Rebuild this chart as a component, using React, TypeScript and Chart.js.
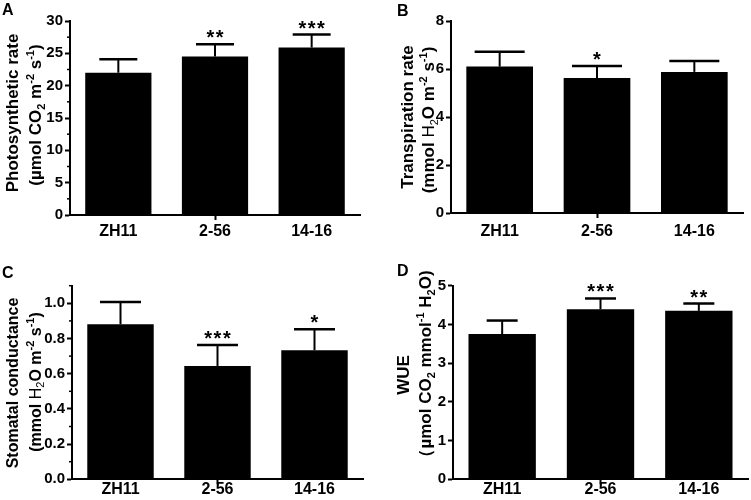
import React, { useEffect, useRef } from "react";
import { Chart, registerables } from "chart.js";

Chart.register(...registerables);

const FAMILY = "'Liberation Sans', Arial, sans-serif";

// ---------- data ----------
const categories = ["ZH11", "2-56", "14-16"];

const photoMean = [22.0, 24.5, 25.9];
const photoSD = [2.1, 1.9, 2.0];
const photoStars = ["", "**", "***"];
const photoTicks = [0, 5, 10, 15, 20, 25, 30];
const photoMinor = [2.5, 7.5, 12.5, 17.5, 22.5, 27.5];

const transMean = [6.1, 5.62, 5.88];
const transSD = [0.62, 0.51, 0.45];
const transStars = ["", "*", ""];
const transTicks = [0, 2, 4, 6, 8];
const transMinor: number[] = [];

const condMean = [0.881, 0.644, 0.733];
const condSD = [0.126, 0.119, 0.119];
const condStars = ["", "***", "*"];
const condTicks = [0, 0.2, 0.4, 0.6, 0.8, 1.0];
const condMinor = [0.1, 0.3, 0.5, 0.7, 0.9, 1.1];

const wueMean = [3.75, 4.39, 4.35];
const wueSD = [0.35, 0.28, 0.19];
const wueStars = ["", "***", "**"];
const wueTicks = [0, 1, 2, 3, 4, 5];
const wueMinor: number[] = [];

type Seg = { t: string; k?: "sub" | "sup"; w?: string };

type Panel = {
  letter: string;
  box: { left: number; top: number; w: number; h: number };
  area: { left: number; right: number; top: number; bottom: number };
  max: number;
  mean: number[];
  sd: number[];
  stars: string[];
  ticks: number[];
  minor: number[];
  decimals: number;
  capW: number;
  xPad: number;
  letterPos: [number, number];
  titleSize: number;
  lines: { segs: Seg[]; cx: number; cy: number }[];
};

const panels: Panel[] = [
  {
    letter: "A",
    box: { left: 0, top: 0, w: 375, h: 250 },
    area: { left: 70, right: 360, top: 21, bottom: 215 },
    max: 30,
    mean: photoMean,
    sd: photoSD,
    stars: photoStars,
    ticks: photoTicks,
    minor: photoMinor,
    decimals: 0,
    capW: 38,
    xPad: 2,
    letterPos: [2, 15],
    titleSize: 17,
    lines: [
      { segs: [{ t: "Photosynthetic rate" }], cx: 12, cy: 113 },
      {
        segs: [
          { t: "(µmol CO" },
          { t: "2", k: "sub" },
          { t: " m" },
          { t: "-2", k: "sup" },
          { t: " s" },
          { t: "-1", k: "sup" },
          { t: ")" },
        ],
        cx: 35,
        cy: 115,
      },
    ],
  },
  {
    letter: "B",
    box: { left: 375, top: 0, w: 376, h: 250 },
    area: { left: 451, right: 743, top: 21, bottom: 213 },
    max: 8,
    mean: transMean,
    sd: transSD,
    stars: transStars,
    ticks: transTicks,
    minor: transMinor,
    decimals: 0,
    capW: 50,
    xPad: 4,
    letterPos: [397, 16],
    titleSize: 17,
    lines: [
      { segs: [{ t: "Transpiration rate" }], cx: 407, cy: 117 },
      {
        segs: [
          { t: "(mmol " },
          { t: "H", w: "normal" },
          { t: "2", k: "sub", w: "normal" },
          { t: "O m" },
          { t: "-2", k: "sup" },
          { t: " s" },
          { t: "-1", k: "sup" },
          { t: ")" },
        ],
        cx: 428,
        cy: 120,
      },
    ],
  },
  {
    letter: "C",
    box: { left: 0, top: 250, w: 375, h: 250 },
    area: { left: 72, right: 363, top: 285.7, bottom: 479.3 },
    max: 1.1,
    mean: condMean,
    sd: condSD,
    stars: condStars,
    ticks: condTicks,
    minor: condMinor,
    decimals: 1,
    capW: 41,
    xPad: -4,
    letterPos: [2, 278],
    titleSize: 16,
    lines: [
      { segs: [{ t: "Stomatal conductance" }], cx: 12, cy: 383 },
      {
        segs: [
          { t: "(mmol " },
          { t: "H", w: "normal" },
          { t: "2", k: "sub", w: "normal" },
          { t: "O m" },
          { t: "-2", k: "sup" },
          { t: " s" },
          { t: "-1", k: "sup" },
          { t: ")" },
        ],
        cx: 35,
        cy: 382,
      },
    ],
  },
  {
    letter: "D",
    box: { left: 375, top: 250, w: 376, h: 250 },
    area: { left: 453, right: 748, top: 285.7, bottom: 479.3 },
    max: 5,
    mean: wueMean,
    sd: wueSD,
    stars: wueStars,
    ticks: wueTicks,
    minor: wueMinor,
    decimals: 0,
    capW: 31,
    xPad: -4,
    letterPos: [397, 276],
    titleSize: 17,
    lines: [
      { segs: [{ t: "WUE" }], cx: 403, cy: 375 },
      {
        segs: [
          { t: "（µmol CO" },
          { t: "2", k: "sub" },
          { t: " mmol" },
          { t: "-1", k: "sup" },
          { t: " H" },
          { t: "2", k: "sub" },
          { t: "O)" },
        ],
        cx: 425,
        cy: 368,
      },
    ],
  },
];

function drawRich(
  ctx: CanvasRenderingContext2D,
  segs: Seg[],
  cx: number,
  cy: number,
  size: number
) {
  const small = Math.round(size * 0.66);
  const parts = segs.map((s) => {
    const fs = s.k ? small : size;
    const font = `${s.w ?? "bold"} ${fs}px ${FAMILY}`;
    ctx.font = font;
    return { s, font, width: ctx.measureText(s.t).width };
  });
  const total = parts.reduce((a, p) => a + p.width, 0);
  ctx.save();
  ctx.translate(cx, cy);
  ctx.rotate(-Math.PI / 2);
  ctx.fillStyle = "#000";
  ctx.textBaseline = "alphabetic";
  ctx.textAlign = "left";
  let x = -total / 2;
  const base = size * 0.36;
  for (const p of parts) {
    ctx.font = p.font;
    let y = base;
    if (p.s.k === "sub") y += size * 0.22;
    if (p.s.k === "sup") y -= size * 0.42;
    ctx.fillText(p.s.t, x, y);
    x += p.width;
  }
  ctx.restore();
}

function PanelChart({ p }: { p: Panel }) {
  const ref = useRef<HTMLCanvasElement | null>(null);

  useEffect(() => {
    const canvas = ref.current;
    if (!canvas) return;
    const aLeft = p.area.left - p.box.left;
    const aRight = p.area.right - p.box.left;
    const aTop = p.area.top - p.box.top;
    const aBottom = p.area.bottom - p.box.top;

    const overlay = {
      id: "overlay" + p.letter,
      afterDatasetsDraw(chart: any) {
        const ctx: CanvasRenderingContext2D = chart.ctx;
        const ys = chart.scales.y;
        const meta = chart.getDatasetMeta(0);
        ctx.save();
        ctx.strokeStyle = "#000";
        ctx.fillStyle = "#000";
        ctx.lineWidth = 1.5;
        const left = chart.chartArea.left;
        for (const v of p.minor) {
          const y = ys.getPixelForValue(v);
          ctx.beginPath();
          ctx.moveTo(left - 3, y);
          ctx.lineTo(left, y);
          ctx.stroke();
        }
        meta.data.forEach((el: any, i: number) => {
          const x = el.x;
          const y0 = ys.getPixelForValue(p.mean[i]);
          const y1 = ys.getPixelForValue(p.mean[i] + p.sd[i]);
          ctx.lineWidth = 2;
          ctx.beginPath();
          ctx.moveTo(x, y0);
          ctx.lineTo(x, y1);
          ctx.stroke();
          ctx.lineWidth = 2.5;
          ctx.beginPath();
          ctx.moveTo(x - p.capW / 2, y1);
          ctx.lineTo(x + p.capW / 2, y1);
          ctx.stroke();
          const st = p.stars[i];
          if (st) {
            ctx.font = `bold 20px ${FAMILY}`;
            (ctx as any).letterSpacing = "1.5px";
            ctx.textAlign = "center";
            ctx.textBaseline = "alphabetic";
            const m = ctx.measureText(st);
            const by = y1 - 6 - m.actualBoundingBoxDescent;
            ctx.fillText(st, x + 0.75, by);
            (ctx as any).letterSpacing = "0px";
          }
        });
        ctx.restore();
      },
      afterDraw(chart: any) {
        const ctx: CanvasRenderingContext2D = chart.ctx;
        for (const l of p.lines) {
          drawRich(ctx, l.segs, l.cx - p.box.left, l.cy - p.box.top, p.titleSize);
        }
        ctx.save();
        ctx.font = `bold 16px ${FAMILY}`;
        ctx.fillStyle = "#000";
        ctx.textAlign = "left";
        ctx.textBaseline = "alphabetic";
        ctx.fillText(p.letter, p.letterPos[0] - p.box.left, p.letterPos[1] - p.box.top);
        ctx.restore();
      },
    };

    const chart = new Chart(canvas, {
      type: "bar",
      data: {
        labels: categories,
        datasets: [
          {
            data: p.mean,
            backgroundColor: "#000",
            borderWidth: 0,
            barPercentage: 1,
            categoryPercentage: 0.685,
          },
        ],
      },
      options: {
        animation: false,
        responsive: false,
        maintainAspectRatio: false,
        layout: {
          padding: { left: 0, top: aTop, right: p.box.w - aRight, bottom: 0 },
        },
        plugins: {
          legend: { display: false },
          tooltip: { enabled: false },
        },
        scales: {
          x: {
            type: "category",
            grid: {
              display: true,
              offset: false,
              drawOnChartArea: false,
              drawTicks: true,
              tickLength: 5,
              tickWidth: 2,
              tickColor: (c: any) => (c.index === 1 ? "#000" : "rgba(0,0,0,0)"),
            },
            border: { display: true, color: "#000", width: 2 },
            ticks: {
              color: "#000",
              font: { family: FAMILY, size: 16, weight: "bold" },
              padding: p.xPad,
              maxRotation: 0,
              autoSkip: false,
            },
            afterFit: (s: any) => {
              s.height = p.box.h - aBottom;
            },
          },
          y: {
            min: 0,
            max: p.max,
            afterBuildTicks: (s: any) => {
              s.ticks = p.ticks.map((v) => ({ value: v }));
            },
            grid: {
              display: true,
              drawOnChartArea: false,
              drawTicks: true,
              tickLength: 5,
              tickWidth: 2,
              tickColor: "#000",
            },
            border: { display: true, color: "#000", width: 2 },
            ticks: {
              color: "#000",
              font: { family: FAMILY, size: 15, weight: "bold" },
              padding: 2,
              callback: (v: any) => Number(v).toFixed(p.decimals),
            },
            afterFit: (s: any) => {
              s.width = aLeft;
            },
          },
        },
      } as any,
      plugins: [overlay],
    });
    return () => chart.destroy();
  }, [p]);

  return (
    <canvas
      ref={ref}
      width={p.box.w}
      height={p.box.h}
      style={{
        position: "absolute",
        left: p.box.left,
        top: p.box.top,
        width: p.box.w,
        height: p.box.h,
      }}
    />
  );
}

export default function App() {
  return (
    <div
      style={{
        position: "absolute",
        left: 0,
        top: 0,
        width: 751,
        height: 500,
        background: "#fff",
        overflow: "hidden",
      }}
    >
      {panels.map((p) => (
        <PanelChart key={p.letter} p={p} />
      ))}
    </div>
  );
}
